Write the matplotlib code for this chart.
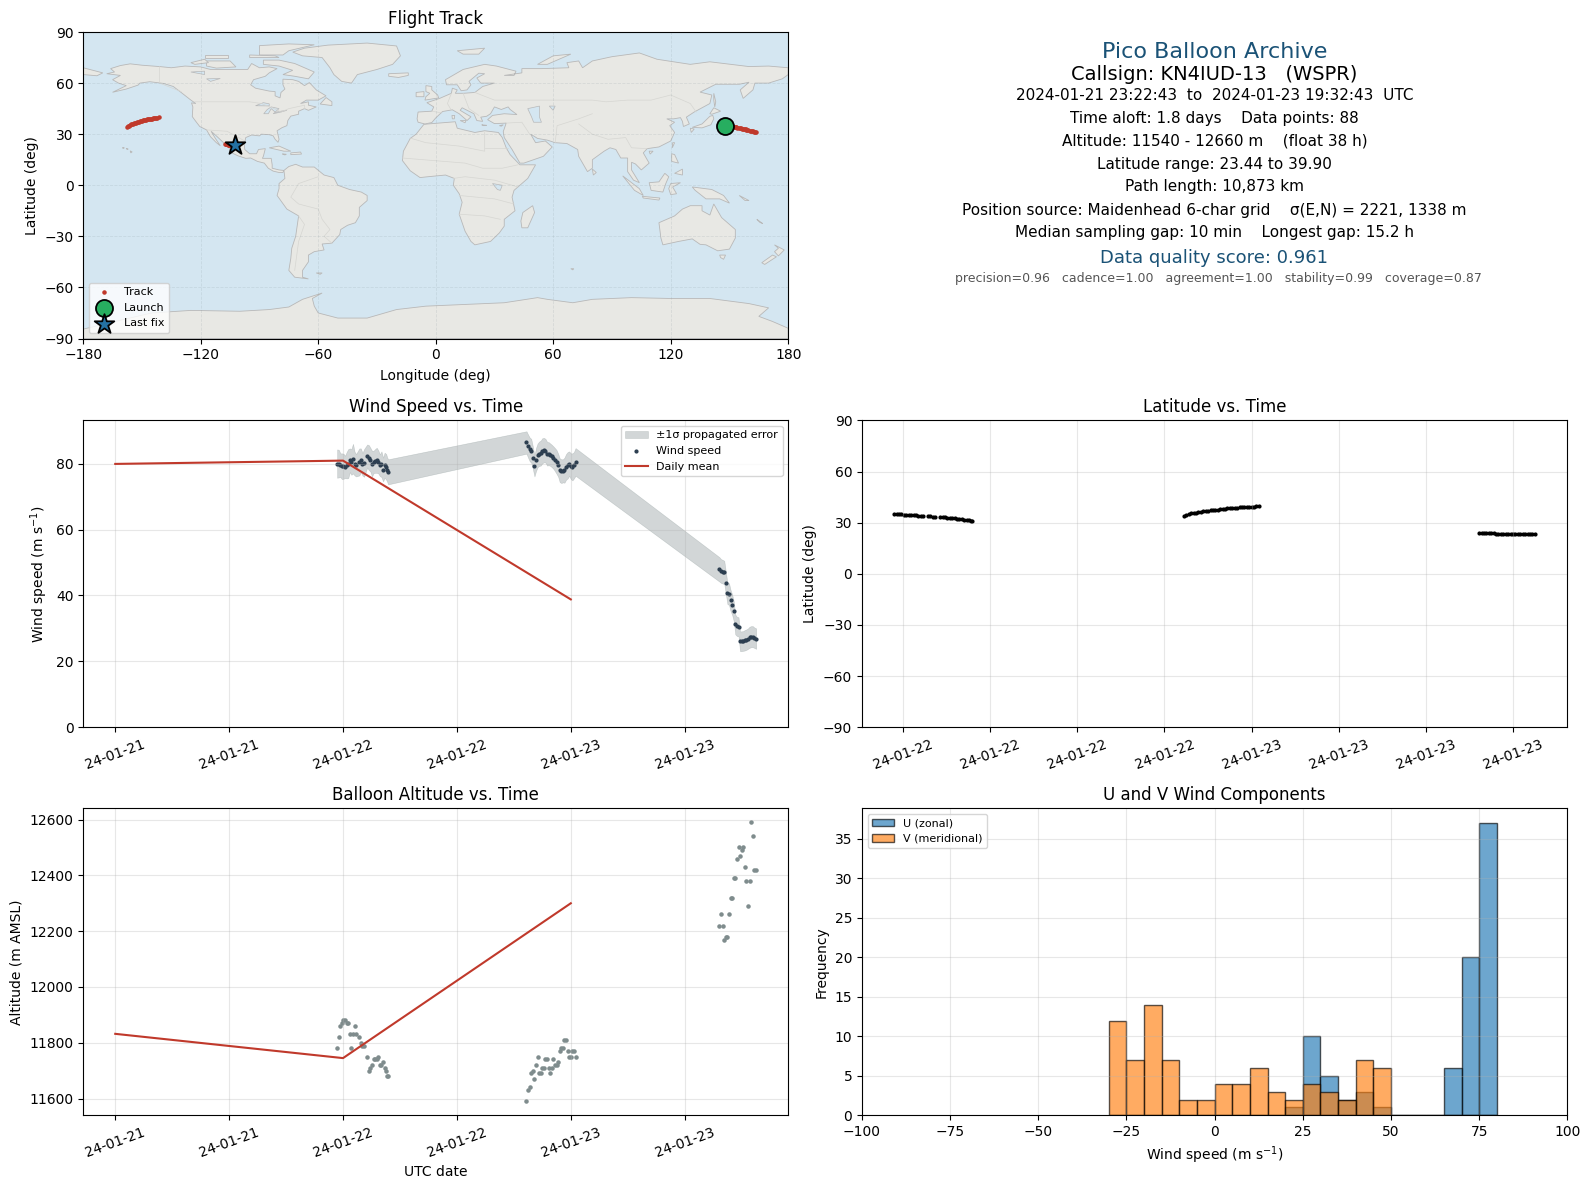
from matplotlib import pyplot as plt
import matplotlib.dates as mdates
import numpy as np
import pandas as pd

# hours after 2024-01-22 00:00 for every fix
hours = [-0.62, -0.45, -0.28, -0.12, 0.05, 0.22, 0.38, 0.55, 0.72, 0.88, 1.05, 1.22, 1.38, 1.72, 1.88, 2.05,
         2.22, 2.55, 2.72, 2.88, 3.05, 3.22, 3.38, 3.55, 3.72, 3.88, 4.05, 4.22, 4.38, 4.55, 4.65, 4.75,
         19.33, 19.50, 19.67, 19.83, 20.00, 20.17, 20.33, 20.50, 20.67, 20.83, 21.00, 21.17, 21.33, 21.50, 21.67, 21.83,
         22.00, 22.17, 22.33, 22.50, 22.67, 22.83, 23.00, 23.17, 23.33, 23.50, 23.67, 23.83, 24.00, 24.17, 24.33, 24.50,
         39.66, 39.83, 40.00, 40.17, 40.33, 40.50, 40.67, 40.83, 41.00, 41.17, 41.33, 41.50,
         41.67, 41.83, 42.00, 42.17, 42.33, 42.50, 42.67, 42.83, 43.00, 43.17, 43.33, 43.53]

wind = [80.0, 80.0, 79.5, 79.2, 79.2, 79.0, 79.5, 80.0, 81.0, 80.5, 81.5, 80.0, 79.5, 80.5, 81.0, 79.8,
        80.2, 82.3, 81.8, 81.2, 80.0, 80.5, 80.8, 81.0, 80.5, 79.5, 79.8, 78.2, 79.5, 79.0, 78.2, 77.5,
        86.4, 85.3, 84.3, 83.9, 81.8, 79.3, 81.2, 82.5, 83.0, 83.2, 83.9, 84.1, 83.9, 83.0, 83.0, 82.7,
        82.3, 81.8, 81.2, 80.5, 79.5, 78.0, 77.7, 77.8, 78.0, 79.0, 79.5, 80.0, 79.2, 79.0, 79.5, 80.5,
        47.9, 47.4, 47.2, 47.0, 43.9, 40.6, 40.4, 38.5, 37.2, 35.2, 31.2, 30.6,
        30.5, 26.1, 26.1, 26.2, 26.4, 26.6, 26.9, 27.3, 27.5, 27.5, 27.2, 26.9]

wind_sigma = [4.3, 4.2, 3.6, 3.9, 3.8, 3.4, 4.0, 4.4, 3.6, 3.9, 4.5, 3.6, 3.4, 4.1, 3.6, 3.4,
              4.2, 3.5, 3.8, 3.6, 3.9, 3.4, 3.6, 3.8, 3.5, 3.3, 3.9, 3.6, 3.8, 3.9, 3.7, 3.8,
              3.4, 3.5, 3.6, 3.6, 3.4, 3.2, 3.5, 3.6, 3.7, 3.8, 3.8, 3.7, 3.6, 3.6, 3.5, 3.4,
              3.4, 3.4, 3.5, 3.6, 3.5, 3.6, 3.6, 3.5, 3.8, 3.9, 4.0, 3.7, 3.9, 4.1, 4.0, 4.2,
              3.7, 3.6, 3.6, 3.5, 3.4, 3.2, 3.3, 3.2, 3.1, 3.0, 3.0, 2.9,
              2.9, 3.0, 3.0, 3.0, 3.1, 3.1, 3.1, 3.2, 3.2, 3.2, 3.1, 3.1]

altitude = [11780, 11820, 11860, 11870, 11880, 11880, 11870, 11870, 11830, 11780, 11830, 11860, 11830, 11820, 11800, 11790,
            11790, 11750, 11700, 11710, 11720, 11740, 11740, 11740, 11750, 11720, 11720, 11730, 11710, 11700, 11680, 11680,
            11590, 11630, 11640, 11690, 11700, 11670, 11720, 11750, 11690, 11690, 11710, 11710, 11740, 11740, 11710, 11690,
            11710, 11740, 11720, 11720, 11730, 11770, 11780, 11780, 11810, 11810, 11770, 11750, 11750, 11770, 11770, 11750,
            12220, 12260, 12220, 12170, 12180, 12180, 12260, 12320, 12320, 12390, 12390, 12460,
            12500, 12470, 12490, 12500, 12430, 12380, 12290, 12380, 12590, 12540, 12420, 12420]

latitude = [35.0, 35.0, 35.0, 34.9, 34.8, 34.7, 34.6, 34.5, 34.4, 34.3, 34.2, 34.1, 34.0, 33.8, 33.7, 33.6,
            33.5, 33.3, 33.2, 33.1, 33.0, 32.8, 32.6, 32.5, 32.3, 32.1, 32.0, 31.8, 31.6, 31.4, 31.2, 31.0,
            34.2, 34.6, 35.0, 35.4, 35.7, 35.9, 36.2, 36.4, 36.6, 36.8, 37.0, 37.2, 37.4, 37.6, 37.7, 37.9,
            38.1, 38.2, 38.4, 38.6, 38.7, 38.8, 38.9, 39.0, 39.1, 39.2, 39.3, 39.3, 39.4, 39.5, 39.7, 39.9,
            24.1, 24.1, 24.1, 24.0, 24.0, 23.9, 23.7, 23.6, 23.5, 23.5, 23.5, 23.5,
            23.5, 23.5, 23.5, 23.5, 23.5, 23.5, 23.5, 23.5, 23.5, 23.5, 23.45, 23.44]

longitude = [147.6, 148.1, 148.6, 149.1, 149.6, 150.1, 150.6, 151.1, 151.6, 152.1, 152.6, 153.1, 153.6, 154.1, 154.7, 155.2,
             155.7, 156.2, 156.7, 157.2, 157.7, 158.2, 158.7, 159.2, 159.7, 160.3, 160.8, 161.3, 161.8, 162.4, 163.0, 163.6,
             -157.5, -157.0, -156.4, -155.9, -155.4, -154.9, -154.4, -153.9, -153.4, -152.9, -152.4, -151.9, -151.4, -150.9, -150.4, -149.9,
             -149.4, -148.9, -148.4, -147.9, -147.4, -146.9, -146.4, -145.9, -145.4, -144.9, -144.4, -143.9, -143.4, -142.8, -142.2, -141.5,
             -107.5, -107.2, -106.9, -106.6, -106.3, -106.0, -105.8, -105.6, -105.4, -105.2, -105.0, -104.8,
             -104.6, -104.5, -104.3, -104.1, -103.9, -103.7, -103.5, -103.3, -103.1, -102.9, -102.7, -102.5]

daily_dates = ["2024-01-21", "2024-01-22", "2024-01-23"]
daily_wind = [79.9, 80.9, 38.8]
daily_alt = [11832, 11745, 12300]

bin_edges = [-30, -25, -20, -15, -10, -5, 0, 5, 10, 15, 20, 25, 30, 35, 40, 45, 50, 55, 60, 65, 70, 75, 80]
u_counts = [0, 0, 0, 0, 0, 0, 0, 0, 0, 0, 1, 10, 5, 2, 3, 1, 0, 0, 0, 6, 20, 37]
v_counts = [12, 7, 14, 7, 2, 2, 4, 4, 6, 3, 2, 4, 3, 2, 7, 6, 0, 0, 0, 0, 0, 0]

# rough coastlines, lon/lat
north_america = [(-168, 65.5), (-164, 66.5), (-166, 68.5), (-161, 70.3), (-156, 71.3), (-150, 70.5), (-141, 69.7), (-135, 69), (-128, 70), (-120, 69.5), (-115, 68), (-108, 68), (-100, 68), (-96, 68), (-94, 71.5), (-90, 69), (-85, 69.5), (-81, 68.5), (-85, 66), (-87, 64), (-93, 62), (-94.5, 59), (-92, 57), (-85, 55.3), (-82, 55), (-82, 52.5), (-79.5, 51.3), (-79, 54.5), (-77, 56.5), (-78, 59), (-78, 62.3), (-73, 62), (-70, 61), (-67, 58.5), (-64.5, 60.3), (-61, 56), (-56, 52.5), (-60, 50), (-66, 50), (-69, 48), (-65, 49), (-65, 47), (-61, 46), (-65, 44), (-67, 45), (-70, 43.5), (-70, 41.7), (-74, 40.6), (-75.5, 38), (-76, 35), (-78.5, 33.8), (-81, 32), (-80, 27), (-80.5, 25.2), (-82, 27), (-83, 29), (-85, 29.7), (-89, 30), (-90, 29), (-94, 29.5), (-97, 28), (-97.7, 24), (-97.5, 21), (-95, 18.5), (-91.5, 18.5), (-90.5, 21), (-87, 21.5), (-88, 17), (-88.5, 15.8), (-84, 15.8), (-83.5, 12), (-83.5, 10), (-80, 9), (-77.5, 8.7), (-78, 7.5), (-80, 7.5), (-83, 8.3), (-85.5, 10), (-87.5, 13), (-91, 14), (-94.5, 16), (-97, 15.8), (-101, 17.3), (-105, 19.5), (-105.5, 22), (-109, 25.7), (-112.5, 29.5), (-114.7, 31.7), (-112.5, 27.5), (-110, 23.2), (-112, 25), (-115, 28.5), (-117, 32.5), (-120.5, 34.5), (-122.5, 37.5), (-124.3, 40.3), (-124, 46), (-124.7, 48.4), (-122.5, 48), (-125, 50), (-130, 54.5), (-134, 58), (-139, 59.8), (-146, 60.8), (-151, 60), (-152, 58.8), (-158, 56.5), (-165, 54.6), (-158, 58.5), (-162, 60), (-165, 62), (-161, 64.5)]
south_america = [(-77.5, 8.7), (-75, 11), (-71.5, 12.3), (-68, 10.7), (-62, 10.7), (-57, 6), (-52, 4.5), (-50, 0), (-44, -2.5), (-38, -4), (-35, -6), (-35, -9), (-39, -13), (-39, -18), (-41, -22), (-45, -23.5), (-48.5, -26), (-49, -29), (-53, -34), (-58, -34.5), (-57, -38), (-62, -39), (-65, -41), (-65, -45), (-68, -50), (-68, -54), (-65, -55), (-72, -54), (-75, -50), (-74, -43), (-73.5, -37), (-71.5, -30), (-70, -18), (-76, -14), (-81, -6), (-80, -2), (-80, 1), (-77, 4)]
africa = [(-6, 35.8), (10, 37.3), (11, 33.5), (20, 31), (25, 32), (32, 31), (34, 28), (36, 22), (38, 18), (43, 12), (51, 12), (47, 4), (40, -3), (39, -7), (40.5, -15), (35, -20), (35, -24), (32.5, -28), (28, -33), (20, -35), (18, -33), (15, -27), (12, -17), (13.5, -10), (12, -5), (9, 0), (9.5, 4), (5, 6), (-4, 5), (-8, 4.5), (-13, 8.5), (-17, 14.5), (-16.5, 20), (-13, 27.5), (-10, 30)]
eurasia = [(-9, 37), (-9.5, 39), (-9, 43), (-2, 43.5), (-1, 46), (-4.5, 48.5), (2, 51), (8, 54), (8.5, 57), (11, 56), (10, 54), (14, 54), (20, 54.5), (24, 58), (30, 60), (23, 60), (21, 63), (25, 65.5), (22, 65.8), (17, 61), (18, 59), (16, 56), (13, 55.5), (11, 59), (5.5, 59), (5, 62), (14, 68), (25, 71), (31, 70), (41, 67), (40, 64.5), (35, 64.5), (44, 66), (44, 68.5), (54, 68.5), (68, 69), (67, 72), (73, 73), (75, 69), (80, 73), (90, 75.5), (104, 77.7), (113, 74), (130, 71), (140, 72.5), (160, 69.7), (170, 70), (180, 69), (180, 65), (177, 62.5), (170, 60), (163, 60), (162, 56), (157, 51), (155.5, 56), (160, 60.5), (155, 59.3), (143, 59.3), (135, 54.7), (141, 53), (140, 48), (132, 43), (128, 40), (129.5, 36), (126.5, 34.5), (126, 37.5), (125, 39.7), (121.5, 39), (118, 39), (122, 37), (119.5, 35), (122, 31), (120, 26), (114, 22.5), (108, 21.5), (106, 19), (109, 13), (105, 9), (102, 12.5), (100, 13.5), (100, 9), (104, 1.5), (101, 3), (98, 8), (98, 16), (94.5, 16), (92, 21), (89, 22), (86, 20), (80, 15), (80, 10), (77.5, 8), (73, 17), (72.5, 21), (67, 24.5), (61, 25), (57, 26.5), (52, 27.5), (48.5, 30), (51, 25), (56, 26), (59.5, 22.5), (55, 17), (45, 13), (43, 13), (39, 21), (35, 28), (34.5, 31.5), (36, 36.5), (30, 36.2), (26.5, 38.5), (29, 41), (35, 42), (41.5, 41.5), (38, 44.5), (37, 46), (33.5, 44.5), (30, 46), (28, 42), (26, 40.5), (23, 40), (24, 37.5), (21, 38), (19.5, 42), (13.5, 45.5), (12.5, 44), (18, 40.2), (16, 38), (12, 42), (8.5, 44.3), (3.5, 43.3), (0, 39.5), (-2, 36.8), (-5.5, 36)]
antarctica = [(-180, -90), (-180, -84.5), (-160, -79), (-145, -75), (-125, -73.5), (-100, -74), (-85, -73), (-75, -71.5), (-68, -67), (-58, -63.3), (-63, -66.5), (-62, -71), (-60, -75), (-50, -78), (-35, -78), (-20, -73), (-5, -71), (15, -70), (35, -69), (52, -66), (57, -67), (70, -69), (80, -67), (100, -66), (120, -66.5), (140, -66.5), (160, -69.5), (170, -72), (165, -77), (172, -80), (180, -84), (180, -90)]
australia = [(114, -22), (122, -18), (126, -14), (130, -12), (136, -12), (136, -15), (140, -17.5), (142, -11), (146, -19), (153, -26), (153, -31), (150, -37.5), (144, -38.5), (138, -35), (135, -34.7), (131, -31.5), (124, -33), (116, -35), (115, -31)]
greenland = [(-73, 78.2), (-67, 80.5), (-55, 82.3), (-35, 83.5), (-20, 81.8), (-18, 76), (-22, 71), (-30, 68), (-40, 65), (-43, 60), (-48, 61), (-52, 65), (-54, 69), (-58, 75), (-68, 76)]
islands = [
    [(-80, 73.5), (-72, 71.5), (-67, 69), (-62, 66.5), (-65, 62.5), (-72, 64), (-78, 65), (-73, 67.5), (-80, 70), (-88, 71), (-88, 73.5)],
    [(-117, 73), (-105, 73), (-102, 69.5), (-112, 68.8), (-117, 70)],
    [(-90, 76.5), (-78, 76.5), (-75, 79), (-62, 82.5), (-75, 83), (-90, 82)],
    [(-125, 72), (-118, 74), (-116, 72), (-123, 71)],
    [(-95, 75), (-80, 75), (-82, 76), (-95, 76.5)],
    [(-118, 75), (-106, 75), (-106, 76.5), (-118, 76.5)],
    [(-59, 47.7), (-53, 46.8), (-53, 49), (-56, 51.5)],
    [(-85, 22), (-80, 23), (-74, 20), (-77.5, 20)],
    [(-74, 19), (-69, 19.5), (-68.5, 18.3), (-74, 18)],
    [(-78.3, 18.4), (-76.3, 18.2), (-77, 17.8)],
    [(-160, 22), (-159, 22), (-159.5, 21.7)],
    [(-158, 21.6), (-157, 21.2), (-157.8, 21.2)],
    [(-156, 20.2), (-155, 19.6), (-155.7, 19)],
    [(-61, -51.5), (-58, -51.5), (-59, -52.3)],
    [(49.5, -12), (50.5, -16), (47, -25), (44, -25), (43.5, -21), (44.5, -16)],
    [(131, -1), (141, -2.5), (147, -6), (150, -10.5), (145, -8), (138, -8), (132.5, -3)],
    [(173, -35), (178, -38), (175, -41.5), (173, -39), (175, -37)],
    [(172, -41), (174, -42), (168, -46.5), (166.5, -45.5)],
    [(145, -41), (148, -41), (147, -43.5), (145.5, -42.5)],
    [(109, 1.5), (114, 2), (117, 7), (119, 5), (117.5, 1), (116, -4), (110, -3)],
    [(95.5, 5.5), (104, -2), (106, -6), (101.5, -3)],
    [(105.5, -6.5), (114.5, -7.5), (114, -8.7), (106, -7.5)],
    [(120, 1), (125, 1.5), (121, -1), (123, -5), (120, -5.5), (119, -2)],
    [(120.5, 18.5), (122, 18), (124, 13), (120.5, 14)],
    [(122, 7), (126, 9.5), (126, 6)],
    [(131, 34), (136, 36), (140, 40.5), (141.5, 41), (142, 39), (140.5, 35.5), (136, 33.7)],
    [(130, 33.5), (132, 33), (130.5, 31)],
    [(140, 42), (142, 45.5), (145.5, 43.5), (141, 41.7)],
    [(121, 25), (122, 25), (120.8, 22)],
    [(142, 54), (143, 49), (142.5, 46), (142, 50)],
    [(80, 9.5), (82, 7.5), (80.5, 6)],
    [(109, 20), (111, 20), (109.5, 18.3)],
    [(-5.5, 50), (1.5, 51.3), (1, 53), (-2, 56), (-2, 58), (-5, 58.5), (-5, 55), (-3, 54), (-5, 52)],
    [(-10, 52), (-6, 52), (-6, 55), (-10, 54.5)],
    [(-24, 65.5), (-14, 66), (-14, 64.5), (-19, 63.3), (-24, 64)],
    [(11, 79), (25, 80.5), (22, 77), (14, 77)],
    [(52, 71), (57, 71), (69, 77), (60, 76)],
    [(12.5, 38), (15.5, 38), (15, 36.7)],
    [(8.3, 41), (9.7, 41), (9.5, 39), (8.5, 39)],
    [(23.5, 35.5), (26, 35.2), (24.5, 35)],
    [(32.5, 35), (34.5, 35.5), (33.5, 34.7)],
    [(69, -49), (70.5, -49), (70, -49.7)],
    [(164, -20), (167, -22.5), (165.5, -21.8)],
    [(155, -6), (160, -9), (158, -9)],
    [(-180, 65), (-173, 64.3), (-170, 66), (-175, 67.5), (-180, 69)],
]
inland_water = [
    [(47, 45), (53, 46.5), (53, 40), (54, 37), (50, 37), (49, 40)],
    [(-92, 46.7), (-88, 48.5), (-85, 47.8), (-85, 46.6)],
    [(-87.8, 42), (-86, 44.5), (-84, 46), (-80, 45), (-82, 43), (-84, 45), (-85.5, 42)],
    [(-83, 42), (-79, 43), (-76, 44), (-79, 43.5), (-82, 42.8)],
    [(-125, 66.5), (-118, 67), (-118, 65)],
    [(-117, 62.5), (-110, 62.7), (-115, 61)],
    [(58, 46.5), (61, 46.5), (60, 44)],
    [(29, 1), (34, 0), (33, -3), (31.5, -2.5)],
]
borders = [
    [(-141, 69.7), (-141, 60), (-130, 55)],
    [(-123, 49), (-95, 49), (-89, 48), (-82.5, 45), (-79, 43), (-75, 45), (-67, 47), (-67, 45)],
    [(-117, 32.5), (-106.5, 31.7), (-97.5, 26)],
    [(-60, 5), (-70, 1), (-74, -7), (-70, -11), (-60, -14), (-58, -20), (-54, -26), (-57, -30), (-53, -34)],
    [(-70, -18), (-67, -23), (-70, -33), (-72, -50)],
    [(-13, 27.7), (-5, 25), (12, 23), (25, 20), (25, 31)],
    [(25, 22), (37, 22)],
    [(-17, 16), (15, 13), (24, 10), (34, 10), (42, 12)],
    [(9, 4), (15, 5), (30, 3), (42, -1)],
    [(12, -6), (30, -8), (40, -11)],
    [(12, -17), (25, -18), (33, -20)],
    [(20, 54.5), (30, 50), (40, 50), (50, 50), (60, 50), (80, 50), (87, 49), (98, 50), (110, 50), (120, 53), (130, 48), (133, 43)],
    [(80, 42), (73, 39), (62, 35), (61, 25)],
    [(73, 36), (80, 30), (88, 27), (97, 28), (100, 22), (108, 21.5)],
    [(48, 30), (44, 37), (36, 36.5)],
    [(-2, 43.5), (3, 42.5)],
    [(8, 54), (6, 48), (8, 44)],
    [(14, 54), (17, 45), (22, 41)],
]

RED = "#c0392b"
NAVY = "#2c3e50"
SLATE = "#7f8c8d"
TITLE_BLUE = "#1a5276"
W, H = 1589.0, 1189.0


def place(left, top, right, bottom):
    return fig.add_axes([left / W, 1 - bottom / H, (right - left) / W, (bottom - top) / H])


def soft_grid(ax):
    ax.grid(True, color="#b0b0b0", alpha=0.3, linewidth=0.8)


def date_axis(ax, byhour):
    ax.xaxis.set_major_locator(mdates.HourLocator(byhour=byhour))
    ax.xaxis.set_major_formatter(mdates.DateFormatter("%y-%m-%d"))
    ax.tick_params(axis="x", labelrotation=20)


times = pd.Timestamp("2024-01-22") + pd.to_timedelta(hours, unit="h")
daily = pd.to_datetime(daily_dates)
wind_a = np.array(wind)
sigma_a = np.array(wind_sigma)

fig = plt.figure(figsize=(W / 100, H / 100), dpi=100)

# map
ax1 = place(83.2, 32, 788.2, 338.5)
ax1.set_facecolor("#d4e6f1")
for poly in [north_america, south_america, africa, eurasia, antarctica, australia, greenland] + islands:
    ax1.add_patch(plt.Polygon(poly, fc="#e8e8e4", ec="#b8b8b8", lw=0.6, zorder=1))
for poly in inland_water:
    ax1.add_patch(plt.Polygon(poly, fc="#d4e6f1", ec="#b8b8b8", lw=0.5, zorder=1.1))
for line in borders:
    ax1.plot([p[0] for p in line], [p[1] for p in line], color="#d6d6d2", lw=0.5, zorder=1.2)
ax1.grid(True, color="#8a9a9f", alpha=0.2, linewidth=0.6, linestyle="--")
ax1.scatter(longitude, latitude, s=5, color=RED, zorder=3, label="Track")
ax1.scatter(longitude[0], latitude[0], s=150, color="#27ae60", edgecolor="black", linewidth=1.3, zorder=4, label="Launch")
ax1.scatter(longitude[-1], latitude[-1], s=220, marker="*", color="#2471a3", edgecolor="black", linewidth=1.3, zorder=5, label="Last fix")
ax1.set_xlim(-180, 180)
ax1.set_ylim(-90, 90)
ax1.set_xticks(range(-180, 181, 60))
ax1.set_yticks(range(-90, 91, 30))
ax1.set_xlabel("Longitude (deg)", labelpad=5)
ax1.set_ylabel("Latitude (deg)")
ax1.set_title("Flight Track", fontsize=12)
ax1.legend(loc="lower left", fontsize=8)

# summary text
summary = [
    (1214.75, "Pico Balloon Archive", 16, TITLE_BLUE, 51.7),
    (1214, "Callsign: KN4IUD-13   (WSPR)", 14, "black", 74.5),
    (1214.75, "2024-01-21 23:22:43  to  2024-01-23 19:32:43  UTC", 11, "black", 95.5),
    (1214.75, "Time aloft: 1.8 days    Data points: 88", 11, "black", 118.5),
    (1214.75, "Altitude: 11540 - 12660 m    (float 38 h)", 11, "black", 141),
    (1214.75, "Latitude range: 23.44 to 39.90", 11, "black", 164),
    (1214.75, "Path length: 10,873 km", 11, "black", 187),
    (1214.75, "Position source: Maidenhead 6-char grid    σ(E,N) = 2221, 1338 m", 11, "black", 210),
    (1214.75, "Median sampling gap: 10 min    Longest gap: 15.2 h", 11, "black", 233),
    (1214, "Data quality score: 0.961", 13, TITLE_BLUE, 258),
    (1218.75, "precision=0.96   cadence=1.00   agreement=1.00   stability=0.99   coverage=0.87", 9, "#555555", 278.5),
]
for xpix, txt, size, col, ypix in summary:
    fig.text(xpix / W, 1 - ypix / H, txt, fontsize=size, color=col, ha="center", va="center")

# wind speed
ax2 = place(83.2, 420.4, 788.2, 727.3)
ax2.fill_between(times, wind_a - sigma_a, wind_a + sigma_a, color=SLATE, alpha=0.35, linewidth=0.4, label="±1σ propagated error")
ax2.scatter(times, wind, s=4, color=NAVY, label="Wind speed")
ax2.plot(daily, daily_wind, color=RED, lw=1.5, label="Daily mean")
ax2.set_ylim(0, 93.1)
ax2.set_ylabel("Wind speed (m s$^{-1}$)")
ax2.set_title("Wind Speed vs. Time", fontsize=12)
date_axis(ax2, [0, 12])
soft_grid(ax2)
ax2.legend(loc="upper right", fontsize=8)

# latitude
ax3 = place(862, 420.4, 1567.3, 727.3)
ax3.scatter(times, latitude, s=4, color="black")
ax3.set_ylim(-90, 90)
ax3.set_yticks(range(-90, 91, 30))
ax3.set_ylabel("Latitude (deg)")
ax3.set_title("Latitude vs. Time", fontsize=12)
date_axis(ax3, [0, 6, 12, 18])
soft_grid(ax3)

# altitude
ax4 = place(83.2, 808.4, 788.2, 1115.3)
ax4.scatter(times, altitude, s=5, color=SLATE)
ax4.plot(daily, daily_alt, color=RED, lw=1.5)
ax4.set_xlabel("UTC date")
ax4.set_ylabel("Altitude (m AMSL)")
ax4.set_title("Balloon Altitude vs. Time", fontsize=12)
date_axis(ax4, [0, 12])
soft_grid(ax4)

# u and v histogram
ax5 = place(862, 808.4, 1567.3, 1115.3)
edges = np.array(bin_edges)
ax5.bar(edges[:-1], u_counts, width=np.diff(edges), align="edge", color="C0", alpha=0.65, edgecolor="black", label="U (zonal)")
ax5.bar(edges[:-1], v_counts, width=np.diff(edges), align="edge", color="C1", alpha=0.65, edgecolor="black", label="V (meridional)")
ax5.set_xlim(-100, 100)
ax5.set_xlabel("Wind speed (m s$^{-1}$)")
ax5.set_ylabel("Frequency")
ax5.set_title("U and V Wind Components", fontsize=12)
soft_grid(ax5)
ax5.legend(loc="upper left", fontsize=8)

fig.savefig("out.png", dpi=100)
